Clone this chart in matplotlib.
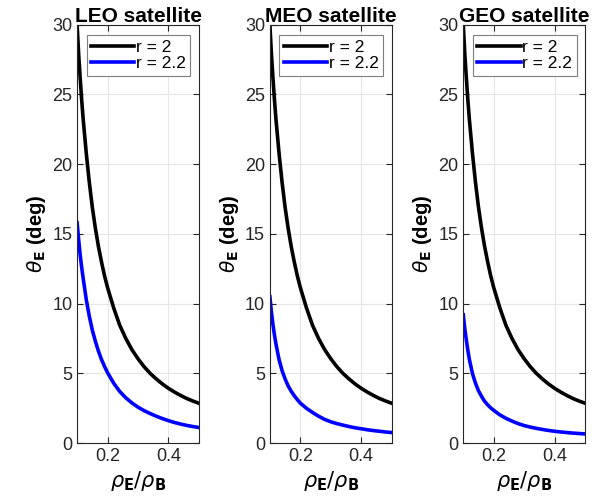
import matplotlib
matplotlib.use('Agg')
import matplotlib.pyplot as plt

# eavesdropper-to-Bob distance ratio
rho_ratio = [0.10, 0.105, 0.11, 0.115, 0.12, 0.13, 0.14, 0.15, 0.16, 0.17,
             0.18, 0.19, 0.20, 0.22, 0.24, 0.26, 0.28, 0.30, 0.32, 0.34,
             0.36, 0.38, 0.40, 0.42, 0.44, 0.46, 0.48, 0.50]

# r = 2 (same for all three orbits)
theta_r2 = [30.0, 27.9, 26.2, 24.6, 23.2, 20.8, 18.7, 16.9, 15.4, 14.1,
            13.0, 12.0, 11.15, 9.7, 8.45, 7.5, 6.7, 6.05, 5.48, 5.0,
            4.6, 4.24, 3.93, 3.66, 3.42, 3.2, 3.02, 2.86]

# r = 2.2 per orbit
theta_leo = [15.8, 14.6, 13.5, 12.6, 11.8, 10.3, 9.1, 8.1, 7.3, 6.6,
             6.0, 5.5, 5.05, 4.3, 3.7, 3.25, 2.88, 2.58, 2.33, 2.12,
             1.93, 1.76, 1.61, 1.48, 1.37, 1.27, 1.19, 1.12]
theta_meo = [10.5, 9.4, 8.5, 7.75, 7.1, 6.0, 5.2, 4.6, 4.1, 3.72,
             3.4, 3.12, 2.87, 2.5, 2.2, 1.93, 1.7, 1.53, 1.4, 1.29,
             1.19, 1.1, 1.03, 0.96, 0.9, 0.85, 0.8, 0.76]
theta_geo = [9.2, 8.2, 7.4, 6.65, 6.0, 5.0, 4.3, 3.75, 3.35, 3.0,
             2.75, 2.53, 2.35, 2.03, 1.78, 1.58, 1.4, 1.26, 1.15, 1.06,
             0.98, 0.91, 0.85, 0.8, 0.76, 0.72, 0.69, 0.66]

titles = ['LEO satellite', 'MEO satellite', 'GEO satellite']
blue_series = [theta_leo, theta_meo, theta_geo]
labels = ['r = 2', 'r = 2.2']

plt.rcParams['font.family'] = ['Liberation Sans', 'DejaVu Sans']
plt.rcParams['mathtext.fontset'] = 'dejavusans'

fig = plt.figure(figsize=(6.12, 5.03), dpi=100)
lefts = [0.126, 0.441, 0.757]
dark = '#262626'

for left, title, blue in zip(lefts, titles, blue_series):
    ax = fig.add_axes([left, 0.119, 0.199, 0.832])
    ax.plot(rho_ratio, theta_r2, color='black', lw=2.6, label=labels[0])
    ax.plot(rho_ratio, blue, color='blue', lw=2.6, label=labels[1])
    ax.set_xlim(0.1, 0.5)
    ax.set_ylim(0, 30)
    ax.set_xticks([0.2, 0.4])
    ax.set_xticklabels(['0.2', '0.4'])
    ax.set_yticks(range(0, 31, 5))
    ax.grid(True, color='#e6e6e6', lw=0.8)
    ax.set_axisbelow(True)
    ax.tick_params(direction='in', top=True, right=True, length=4,
                   labelsize=13, colors=dark, width=0.8)
    for s in ax.spines.values():
        s.set_color(dark)
        s.set_linewidth(0.8)
    ax.set_title(title, fontsize=15, fontweight='bold', pad=2)
    ax.set_ylabel(r'$\theta_{\mathbf{E}}$ (deg)', fontsize=14.5,
                  fontweight='bold', labelpad=3)
    ax.set_xlabel(r'$\rho_{\mathbf{E}}/\rho_{\mathbf{B}}$', fontsize=15,
                  labelpad=3)
    leg = ax.legend(loc='upper right', bbox_to_anchor=(0.93, 0.975),
                    fontsize=12.5, fancybox=False, framealpha=1,
                    handlelength=2.5, handletextpad=0.1,
                    borderpad=0.25, labelspacing=0.1, borderaxespad=0)
    leg.get_frame().set_edgecolor('#7f7f7f')
    leg.get_frame().set_linewidth(0.8)

fig.savefig('out.png', dpi=100)
